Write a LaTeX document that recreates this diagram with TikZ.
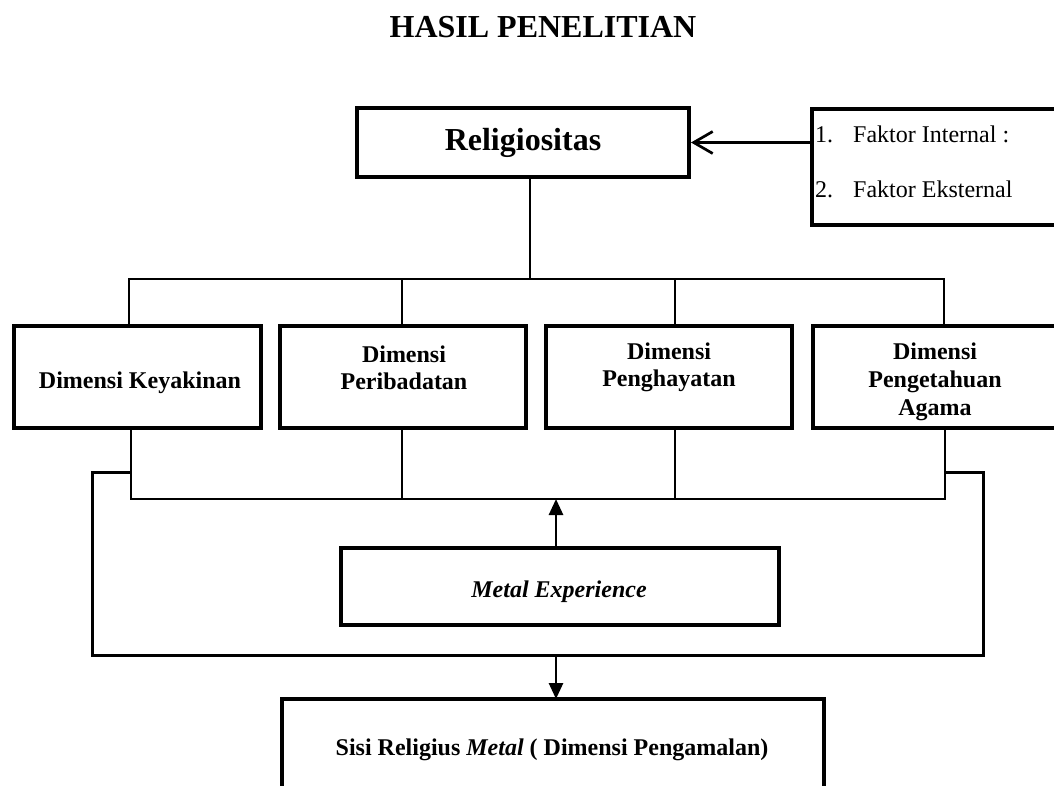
\documentclass[tikz,border=0pt]{standalone}
\usepackage{fontspec}
\setmainfont{Liberation Serif}
\usetikzlibrary{arrows.meta}
\begin{document}
\begin{tikzpicture}[x=1pt,y=-1pt,
  boxst/.style={draw,line width=4pt,inner sep=0pt,outer sep=0pt},
  conn/.style={line width=2.7pt},
  outerln/.style={line width=3pt},
  txt/.style={inner sep=0pt,font=\fontsize{24}{27}\selectfont\bfseries,align=center},
  ftxt/.style={inner sep=0pt,font=\fontsize{24}{27}\selectfont,anchor=base west},
  fillhead/.style={-{Triangle[length=16pt,width=14pt]}},
]
\useasboundingbox (0,0) rectangle (1054,785);
\clip (0,0) rectangle (1054,785);
% title
\node[inner sep=0pt,anchor=base,font=\fontsize{32}{38}\selectfont\bfseries] (title) at (543,37) {HASIL PENELITIAN};
% boxes
\node[boxst,minimum width=332pt,minimum height=69pt,font=\fontsize{32}{38}\selectfont\bfseries] (rel) at (523,142.5) {Religiositas};
\node[boxst,minimum width=252pt,minimum height=116pt] (fak) at (938,167) {};
\node[boxst,minimum width=247pt,minimum height=102.5pt] (b1) at (137.5,377) {};
\node[boxst,minimum width=246pt,minimum height=102.5pt] (b2) at (403,377) {};
\node[boxst,minimum width=246pt,minimum height=102.5pt] (b3) at (669,377) {};
\node[boxst,minimum width=246pt,minimum height=102.5pt] (b4) at (936,377) {};
\node[boxst,minimum width=438pt,minimum height=77pt] (met) at (560,586.5) {};
\node[boxst,minimum width=542pt,minimum height=110pt] (sisi) at (553,754) {};
% texts
\node[ftxt] (f1) at (815,142) {\makebox[38pt][l]{1.}Faktor Internal :};
\node[ftxt] (f2) at (815,197) {\makebox[38pt][l]{2.}Faktor Eksternal};
\node[txt,anchor=base] (t1) at (140,388) {Dimensi Keyakinan};
\node[txt,anchor=north] (t2) at (404,345.5) {Dimensi\\Peribadatan};
\node[txt,anchor=north] (t3) at (669,342.5) {Dimensi\\Penghayatan};
\node[txt,anchor=north,font=\fontsize{24}{28}\selectfont\bfseries] (t4) at (935,342.5) {Dimensi\\Pengetahuan\\Agama};
\node[txt,anchor=base] (tm) at (559,597) {\textit{Metal Experience}};
\node[txt,anchor=base] (ts) at (552,755) {Sisi Religius \textit{Metal} ( Dimensi Pengamalan)};
% connector coordinates
\coordinate (d0) at (530,279);
\coordinate (d1) at (129,279);
\coordinate (d2) at (402,279);
\coordinate (d3) at (675,279);
\coordinate (d4) at (944,279);
\coordinate (e1) at (131,499);
\coordinate (e2) at (402,499);
\coordinate (e3) at (675,499);
\coordinate (e4) at (945,499);
\coordinate (e5) at (556,499);
\coordinate (o1) at (131,472);
\coordinate (oL1) at (92,472);
\coordinate (oL2) at (92,655);
\coordinate (oR2) at (983,655);
\coordinate (oR1) at (983,472);
\coordinate (o4) at (945,472);
\coordinate (fd) at (556,655);
% connectors
\draw[conn,-{Straight Barb[length=19pt,width=22pt,line width=2.7pt]},shorten >=2pt] (rel.east -| fak.west) -- (rel.east);
\draw[conn] (rel.south -| d0) -- (d0);
\draw[conn,line cap=rect] (d1) -- (d4);
\draw[conn] (d1) -- (d1 |- b1.north);
\draw[conn] (d2) -- (d2 |- b2.north);
\draw[conn] (d3) -- (d3 |- b3.north);
\draw[conn] (d4) -- (d4 |- b4.north);
\draw[conn] (b1.south -| e1) -- (e1) -- (e4) -- (b4.south -| e4);
\draw[conn] (b2.south -| e2) -- (e2);
\draw[conn] (b3.south -| e3) -- (e3);
\draw[outerln] (o1) -- (oL1) -- (oL2) -- (oR2) -- (oR1) -- (o4);
\draw[conn,fillhead] (met.north -| e5) -- (e5);
\draw[conn,fillhead] (fd) -- (fd |- sisi.north);
\end{tikzpicture}
\end{document}
